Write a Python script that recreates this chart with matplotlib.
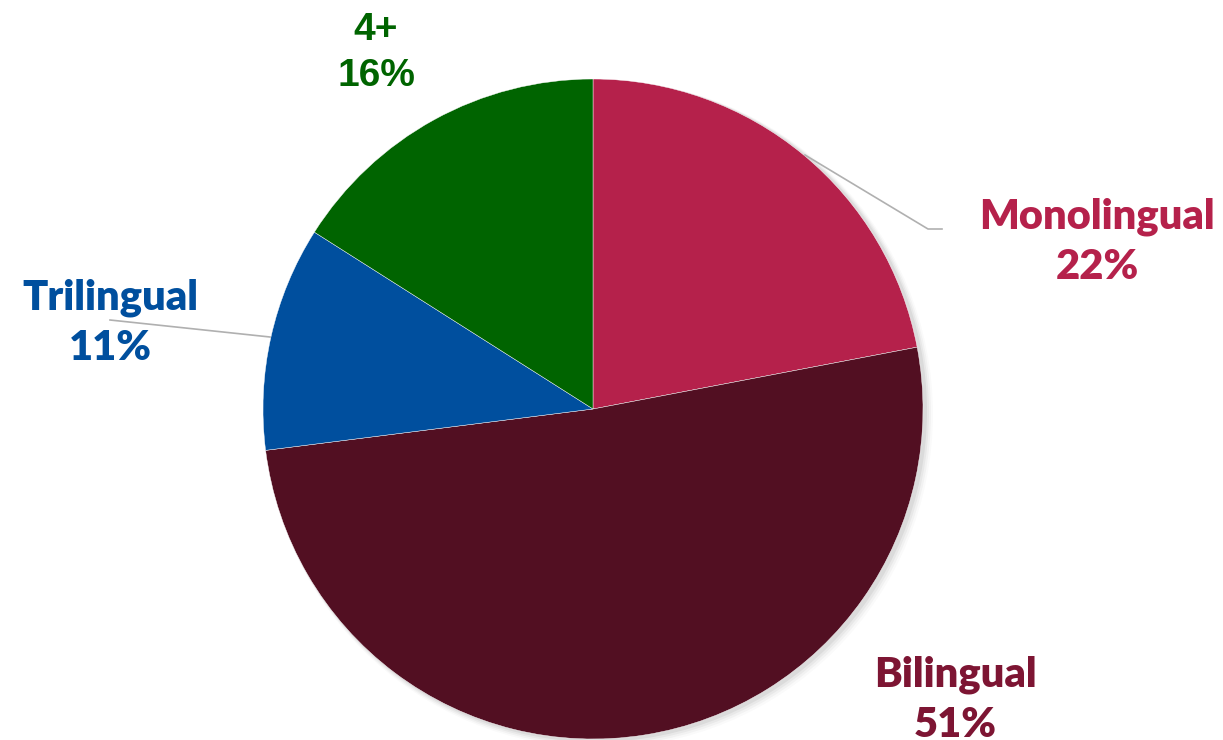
import matplotlib.pyplot as plt
from matplotlib.patches import Circle

# data
categories = ['Monolingual', 'Bilingual', 'Trilingual', '4+']
shares = [22, 51, 11, 16]
slice_colors = ['#B5214B', '#520F22', '#004F9E', '#006400']
label_colors = ['#B5214B', '#7D1533', '#004F9E', '#006400']

W, H = 1223, 740
fig = plt.figure(figsize=(W / 100, H / 100), dpi=100)
ax = fig.add_axes([0, 0, 1, 1])
ax.set_xlim(0, W)
ax.set_ylim(0, H)
ax.axis('off')

cx, cy, r = 593, H - 409, 330

# soft shadow behind the pie
for k, a in enumerate([0.05, 0.04, 0.03, 0.02]):
    ax.add_patch(Circle((cx + 3 + k, cy - 2 - k), r + 1 + k, color='black', alpha=a, lw=0, zorder=0))

ax.pie(shares, colors=slice_colors, startangle=90, counterclock=False,
       center=(cx, cy), radius=r, frame=True,
       wedgeprops=dict(linewidth=0.3, edgecolor='white', zorder=1))
ax.set_xlim(0, W)
ax.set_ylim(0, H)
ax.set_aspect('equal')
ax.axis('off')

# leader lines (pixel coords, y from top)
def line(pts):
    ax.plot([p[0] for p in pts], [H - p[1] for p in pts], color='#B0B0B0', lw=1.2, zorder=2)

line([(805, 155), (928, 229), (942, 229)])
line([(110, 320), (270, 337)])

label_pos = [(1097, 242), (955, 700), (110, 323), (376, 53)]
for name, v, c, (x, y) in zip(categories, shares, label_colors, label_pos):
    fam = 'Liberation Sans' if name == '4+' else 'Lato'
    size = 28 if name == '4+' else 30
    ax.text(x, H - y, f'{name}\n{v}%', ha='center', va='center', color=c,
            fontsize=size, fontweight='heavy', family=fam, linespacing=1.38, zorder=3)

fig.savefig('out.png', dpi=100)
